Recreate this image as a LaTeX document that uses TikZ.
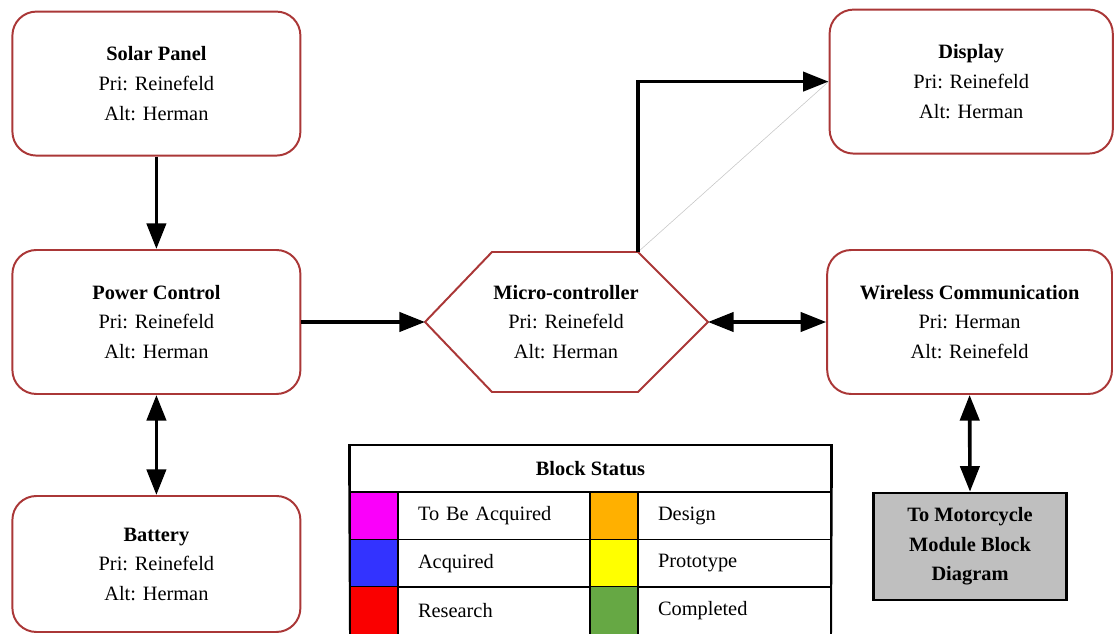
\documentclass[tikz,border=0pt]{standalone}
\usepackage{fontspec}
\setmainfont{Liberation Serif}
\usetikzlibrary{arrows.meta,positioning,calc}
\definecolor{bdred}{RGB}{170,55,55}
\definecolor{stmag}{RGB}{250,0,250}
\definecolor{stblue}{RGB}{51,51,255}
\definecolor{stred}{RGB}{250,0,0}
\definecolor{storange}{RGB}{255,176,0}
\definecolor{styellow}{RGB}{255,255,0}
\definecolor{stgreen}{RGB}{102,168,68}

\begin{document}
\begin{tikzpicture}[
  blk/.style={draw=bdred, line width=1.4pt, fill=white, rounded corners=0.6cm, minimum width=7.2cm, minimum height=3.6cm, align=center, font=\fontsize{14.5}{21}\selectfont},
  link/.style={line width=2.6pt, -{Triangle[length=6.4mm,width=4.8mm]}},
  dlink/.style={line width=2.6pt, {Triangle[length=6.4mm,width=4.8mm]}-{Triangle[length=6.4mm,width=4.8mm]}},
  swatch/.style={draw=black, line width=1pt, minimum width=1.2cm, minimum height=1.19cm, inner sep=0pt},
  entry/.style={draw=black, line width=1pt, minimum height=1.19cm, text width=3.8cm, inner xsep=0.5cm, align=left, font=\fontsize{14.5}{21}\selectfont}
]
  \useasboundingbox (0,0) rectangle (27.85,15.85);
  \clip (0,0) rectangle (27.85,15.85);

  % left column
  \node[blk] (sp) at (3.91,13.76) {\textbf{Solar Panel}\\Pri: Reinefeld\\Alt: Herman};
  \node[blk] (pc) at (3.91,7.8) {\textbf{Power Control}\\Pri: Reinefeld\\Alt: Herman};
  \node[blk, minimum height=3.4cm] (bat) at (3.91,1.75) {\textbf{Battery}\\Pri: Reinefeld\\Alt: Herman};

  % micro-controller hexagon
  \coordinate (mcW) at (10.625,7.8);
  \coordinate (mcNW) at (12.3,9.55);
  \coordinate (mcNE) at (15.95,9.55);
  \coordinate (mcE) at (17.7,7.8);
  \coordinate (mcSE) at (15.95,6.05);
  \coordinate (mcSW) at (12.3,6.05);
  \draw[draw=bdred, line width=1.4pt, fill=white] (mcW) -- (mcNW) -- (mcNE) -- (mcE) -- (mcSE) -- (mcSW) -- cycle;
  \node[align=center, font=\fontsize{14.5}{21}\selectfont] (mc) at (14.15,7.8) {\textbf{Micro-controller}\\Pri: Reinefeld\\Alt: Herman};

  % right column
  \node[blk, minimum width=7.08cm] (disp) at (24.28,13.81) {\textbf{Display}\\Pri: Reinefeld\\Alt: Herman};
  \node[blk, minimum width=7.12cm] (wc) at (24.24,7.8) {\textbf{Wireless Communication}\\Pri: Herman\\Alt: Reinefeld};
  \node[draw=black, line width=1.6pt, fill=gray!50, minimum width=4.83cm, minimum height=2.68cm, align=center, font=\fontsize{14.5}{21}\selectfont\bfseries] (tm) at (24.25,2.19) {To Motorcycle\\Module Block\\Diagram};

  % connectors
  \draw[link] (sp) -- (pc);
  \draw[dlink] (pc) -- (bat);
  \draw[link] (pc.east |- mcW) -- (mcW);
  \draw[dlink] (mcE) -- (wc.west |- mcE);
  \draw[gray!45, line width=0.4pt] (mcNE) -- (disp.west);
  \draw[link] (mcNE) |- (disp.west);
  \draw[dlink] (wc.south) -- (tm.north);

  % status legend
  \node[draw=black, line width=1.4pt, minimum width=12.025cm, minimum height=1.175cm, font=\fontsize{14.5}{21}\selectfont\bfseries] (lh) at (14.7625,4.1375) {Block Status};
  \node[swatch, fill=stmag] (s1) at (9.35,2.95) {};
  \node[entry] (t1) at (12.35,2.95) {To Be Acquired};
  \node[swatch, fill=storange] (s4) at (15.35,2.95) {};
  \node[entry, text width=3.825cm] (t4) at (18.3625,2.95) {Design};
  \node[swatch, fill=stblue] (s2) at (9.35,1.7625) {};
  \node[entry] (t2) at (12.35,1.7625) {Acquired};
  \node[swatch, fill=styellow] (s5) at (15.35,1.7625) {};
  \node[entry, text width=3.825cm] (t5) at (18.3625,1.7625) {Prototype};
  \node[swatch, fill=stred] (s3) at (9.35,0.5875) {};
  \node[entry] (t3) at (12.35,0.5875) {Research};
  \node[swatch, fill=stgreen] (s6) at (15.35,0.5875) {};
  \node[entry, text width=3.825cm] (t6) at (18.3625,0.5875) {Completed};
  \draw[line width=1.4pt] (lh.north west) -- (8.75,0) (lh.north east) -- (20.775,0);
\end{tikzpicture}
\end{document}
